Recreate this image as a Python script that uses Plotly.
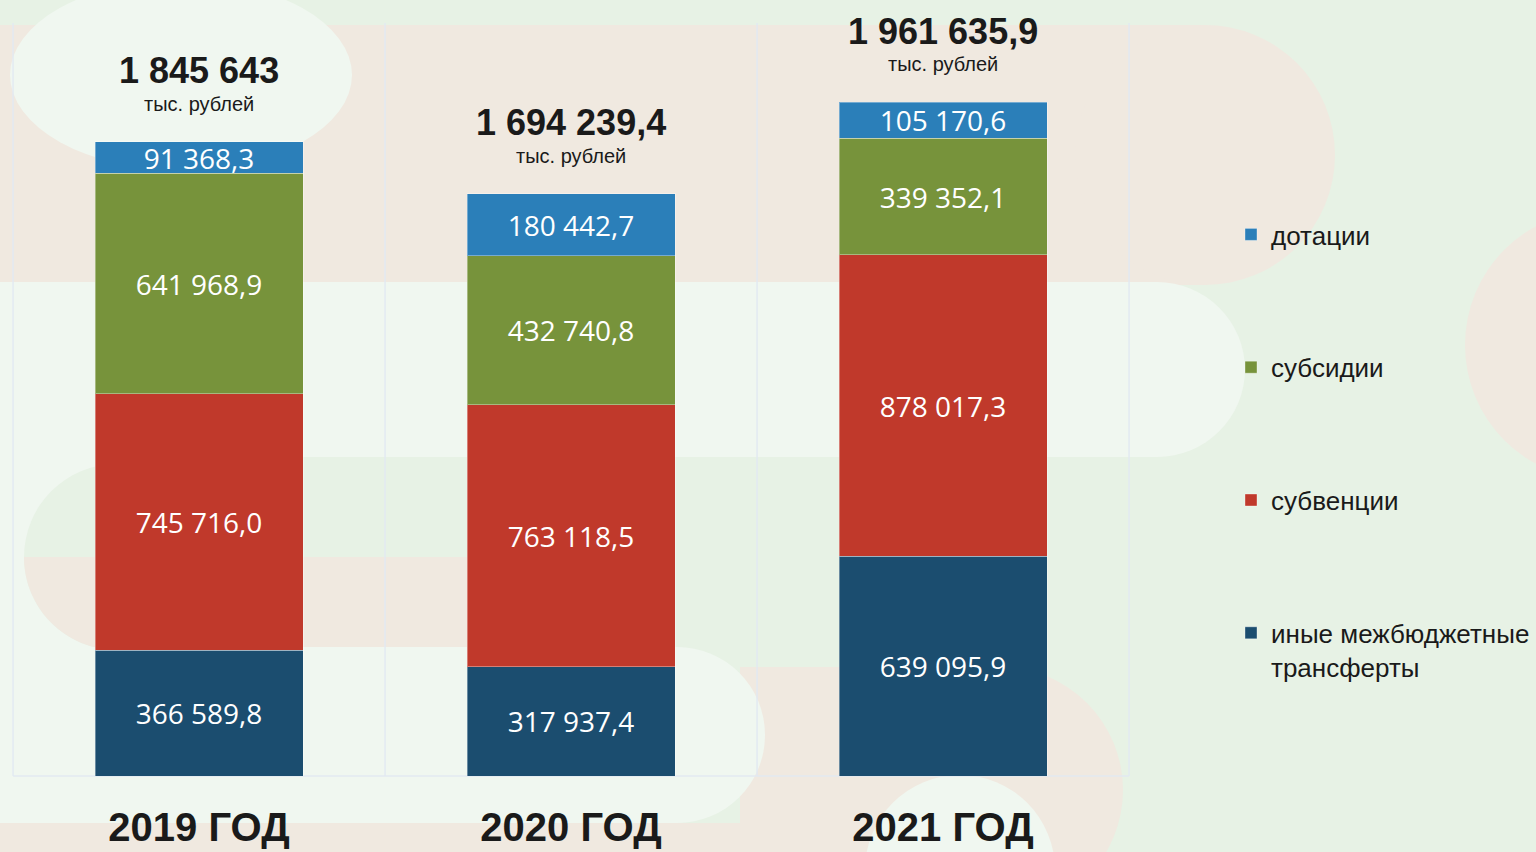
import plotly.graph_objects as go

# ---------------- data ----------------
years = ["2019 ГОД", "2020 ГОД", "2021 ГОД"]
series_names = ["иные межбюджетные<br>трансферты", "субвенции", "субсидии", "дотации"]
legend_ranks = [4, 3, 2, 1]
inye = [366589.8, 317937.4, 639095.9]
subvencii = [745716.0, 763118.5, 878017.3]
subsidii = [641968.9, 432740.8, 339352.1]
dotacii = [91368.3, 180442.7, 105170.6]
unit_label = "тыс. рублей"

series_values = [inye, subvencii, subsidii, dotacii]
colors = ["#1b4d6f", "#c0392b", "#77933b", "#2b7fb9"]

W, H = 1536, 852
NARROW = "Liberation Sans Narrow, Arial Narrow, Liberation Sans, Arial, sans-serif"


def X(px):
    return px / W


def Y(py):
    return 1 - py / H


def fmt_total(v):
    s = f"{round(v, 1):,.1f}".replace(",", " ").replace(".", ",")
    if s.endswith(",0"):
        s = s[:-2]
    return s


fig = go.Figure()
for name, vals, col, rk in zip(series_names, series_values, colors, legend_ranks):
    fig.add_trace(go.Bar(
        x=years, y=vals, name=name, legendgroup=name, legendrank=rk,
        marker=dict(color=col, line=dict(color="rgba(255,255,255,0.35)", width=1)),
        width=0.559,
        texttemplate="%{y:,.1f}", textposition="inside", insidetextanchor="middle",
        textangle=0,
        textfont=dict(family="Open Sans, sans-serif", size=28, color="white"),
        hoverinfo="skip",
    ))

# totals above bars
totals = [sum(v[i] for v in series_values) for i in range(len(years))]
annotations = []
for yr, t in zip(years, totals):
    annotations.append(dict(x=yr, y=t, xref="x", yref="y", text="<b>" + fmt_total(t) + "</b>",
                            showarrow=False, yanchor="middle", yshift=71,
                            font=dict(family=NARROW, size=36, color="#1a1a1a")))
    annotations.append(dict(x=yr, y=t, xref="x", yref="y", text=unit_label,
                            showarrow=False, yanchor="middle", yshift=38,
                            font=dict(family=NARROW, size=20, color="#1a1a1a")))

# background decoration (pixel coords converted to paper)
BEIGE = "#f0e9e0"
WHITE = "#f0f7f0"
GREEN = "#e7f2e5"


def rect(x0, y0, x1, y1, c):
    return dict(type="rect", xref="paper", yref="paper", x0=X(x0), x1=X(x1), y0=Y(y1), y1=Y(y0),
                fillcolor=c, line=dict(width=0), layer="below")


def circ(cx, cy, rx, ry, c):
    return dict(type="circle", xref="paper", yref="paper", x0=X(cx - rx), x1=X(cx + rx),
                y0=Y(cy + ry), y1=Y(cy - ry), fillcolor=c, line=dict(width=0), layer="below")


def pth(points_str, c):
    return dict(type="path", xref="paper", yref="paper", path=points_str,
                fillcolor=c, line=dict(width=0), layer="below")


def P(px, py):
    return f"{X(px):.5f},{Y(py):.5f}"


k = 0.5523
r = 93
quarter = ("M " + P(117, 557) + " L " + P(24, 557) +
           " C " + P(24, 557 + k * r) + " " + P(117 - k * r, 650) + " " + P(117, 650) +
           " L " + P(600, 650) + " L " + P(600, 557) + " Z")

shapes = [
    # beige pill top
    rect(-10, 25, 1205, 285, BEIGE),
    circ(1205, 155, 130, 130, BEIGE),
    # white ellipse top-left
    circ(181, 75, 171, 95, WHITE),
    # white pill middle
    rect(-10, 282, 1157, 457, WHITE),
    circ(1157, 369.5, 88, 87.5, WHITE),
    # right beige circle
    circ(1600, 345, 135, 135, BEIGE),
    # lower left white strip
    rect(-10, 457, 130, 650, WHITE),
    circ(117, 557, 93, 93, GREEN),
    rect(117, 464, 700, 557, GREEN),
    pth(quarter, BEIGE),
    # lower beige area
    rect(740, 667, 1000, 852, BEIGE),
    circ(1000, 790, 123, 123, BEIGE),
    rect(-10, 823, 740, 852, BEIGE),
    # white pill bottom
    rect(-10, 647, 677, 823, WHITE),
    circ(677, 735, 88, 88, WHITE),
    circ(960, 870, 95, 95, WHITE),
]

# faint category separators & baseline
grid_col = "rgba(226,233,241,0.95)"
for i in range(len(years) + 1):
    shapes.append(dict(type="line", xref="x", yref="paper", x0=i - 0.5, x1=i - 0.5,
                       y0=Y(776), y1=Y(23), line=dict(color=grid_col, width=1.5), layer="below"))
shapes.append(dict(type="line", xref="x", yref="paper", x0=-0.5, x1=len(years) - 0.5,
                   y0=Y(776), y1=Y(776), line=dict(color=grid_col, width=1.5), layer="below"))

ymax = 776 / 343.55 * 1e6

fig.update_layout(
    width=W, height=H,
    margin=dict(l=0, r=0, t=0, b=0, autoexpand=False),
    barmode="stack",
    paper_bgcolor=GREEN,
    plot_bgcolor="rgba(0,0,0,0)",
    separators=", ",
    uniformtext=dict(minsize=28, mode="show"),
    showlegend=True,
    legend=dict(x=X(1231), y=Y(211), xanchor="left", yanchor="top",
                traceorder="grouped", tracegroupgap=96, valign="top",
                bgcolor="rgba(0,0,0,0)",
                font=dict(family=NARROW, size=26, color="#1a1a1a")),
    xaxis=dict(domain=[0, 1], range=[-0.535, 3.594], type="category", automargin=False,
               showgrid=False, zeroline=False, showline=False, ticks="",
               ticklabelstandoff=24,
               tickfont=dict(family=NARROW, size=40, color="#1a1a1a"),
               ticktext=["<b>" + y + "</b>" for y in years], tickvals=years),
    yaxis=dict(domain=[Y(776), 1], range=[0, ymax], visible=False),
    shapes=shapes,
    annotations=annotations,
)

fig.write_html("out.html", config={"displayModeBar": False},
               post_script="document.body.style.margin='0';document.body.style.overflow='hidden';")
